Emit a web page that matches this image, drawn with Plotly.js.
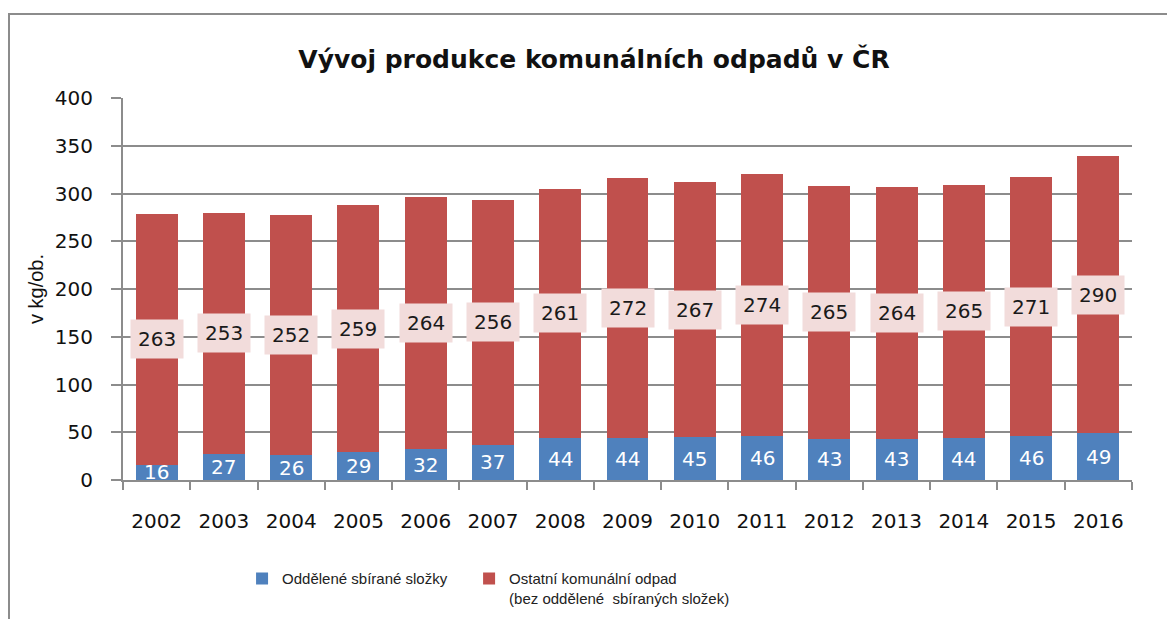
<!DOCTYPE html>
<html>
<head>
<meta charset="utf-8">
<script src="https://cdn.plot.ly/plotly-3.0.1.min.js"></script>
<style>
html,body{margin:0;padding:0;background:#fff;}
#frame{position:absolute;left:8px;top:13px;width:1200px;height:700px;border:2px solid #8c8c8c;box-sizing:border-box;}
#chart{position:absolute;left:0;top:0;width:1167px;height:619px;}
</style>
</head>
<body>
<div id="frame"></div>
<div id="chart"></div>
<script>
const years = ['2002','2003','2004','2005','2006','2007','2008','2009','2010','2011','2012','2013','2014','2015','2016'];
const separated = [16,27,26,29,32,37,44,44,45,46,43,43,44,46,49];
const other = [263,253,252,259,264,256,261,272,267,274,265,264,265,271,290];
const nameSeparated = 'Oddělené sbírané složky';
const nameOther = 'Ostatní komunální odpad<br>(bez oddělené  sbíraných složek)';

const font = 'Liberation Sans, Arial, sans-serif';
const wfont = 'DejaVu Sans, Verdana, sans-serif';

const traces = [
  {type:'bar', x:years, y:separated, name:nameSeparated, marker:{color:'#4f81bd'}, hoverinfo:'skip', legend:'legend'},
  {type:'bar', x:years, y:other, name:nameOther, marker:{color:'#c0504d'}, hoverinfo:'skip', legend:'legend2'}
];

const annotations = [];
years.forEach((yr,i)=>{
  annotations.push({x:i, y:separated[i]/2, xref:'x', yref:'y', text:String(separated[i]), showarrow:false,
    font:{family:wfont, size:20, color:'#ffffff'}});
  annotations.push({x:i, y:separated[i]+other[i]/2, xref:'x', yref:'y', text:String(other[i]), showarrow:false,
    font:{family:wfont, size:20, color:'#1a1a1a'}, bgcolor:'#f2dcdb', borderpad:7});
});

const layout = {
  width:1167, height:619,
  margin:{l:123, r:35, t:98, b:139, autoexpand:false},
  paper_bgcolor:'rgba(0,0,0,0)', plot_bgcolor:'rgba(0,0,0,0)',
  barmode:'stack', bargap:0.376,
  title:{text:'<b>Vývoj produkce komunálních odpadů v ČR</b>', x:0.509, xanchor:'center', y:0.905, yanchor:'middle',
    font:{family:wfont, size:25, color:'#111'}},
  xaxis:{type:'category', showgrid:false, showline:true, linecolor:'#8c8c8c', linewidth:2,
    ticks:'outside', tickson:'boundaries', ticklen:8, tickcolor:'#8c8c8c', tickwidth:2, tickangle:0,
    ticklabelstandoff:22, range:[-0.5,14.5],
    tickfont:{family:wfont, size:20, color:'#111'}, automargin:false},
  yaxis:{range:[0,400], dtick:50, showgrid:true, gridcolor:'#8c8c8c', gridwidth:2,
    showline:true, linecolor:'#8c8c8c', linewidth:2, ticks:'outside', ticklen:10, tickcolor:'#8c8c8c', tickwidth:2,
    ticklabelstandoff:14,
    tickfont:{family:wfont, size:20, color:'#111'}, zeroline:false, automargin:false,
    title:{text:'v kg/ob.', font:{family:font, size:20, color:'#111'}, standoff:6}},
  showlegend:true,
  legend:{orientation:'h', x:0.118, xanchor:'left', y:-0.215, yanchor:'top',
    font:{family:font, size:15, color:'#222'}, valign:'top', itemwidth:30},
  legend2:{orientation:'h', x:0.343, xanchor:'left', y:-0.215, yanchor:'top',
    font:{family:font, size:15, color:'#222'}, valign:'top', itemwidth:30},
  annotations:annotations
};

Plotly.newPlot('chart', traces, layout, {displayModeBar:false, staticPlot:true});
</script>
</body>
</html>
